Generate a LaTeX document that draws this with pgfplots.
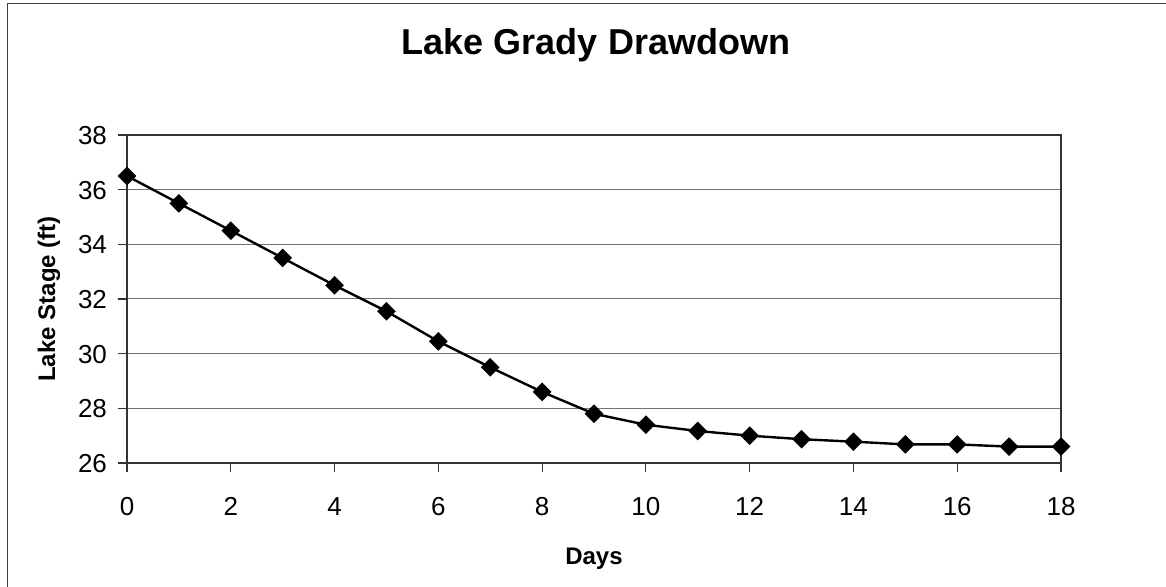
\documentclass[border=0pt]{standalone}
\usepackage{pgfplots}
\pgfplotsset{compat=1.18}
\usepackage{fontspec}
\setmainfont{Liberation Sans}
\begin{document}
\begin{tikzpicture}
\useasboundingbox (0pt,0pt) rectangle (583pt,293.5pt);
\draw[black!75, line width=0.5pt] (3.5pt,0pt) -- (3.5pt,291.5pt) -- (583pt,291.5pt);
\node[font=\bfseries\fontsize{18}{21}\selectfont] at (298pt,271pt) {Lake Grady Drawdown};
\begin{axis}[
  at={(63.5pt,62pt)}, anchor=south west,
  scale only axis, width=467pt, height=164pt,
  xmin=0, xmax=18, ymin=26, ymax=38,
  xtick={0,2,...,18}, ytick={26,28,...,38},
  ymajorgrids, grid style={black!55, line width=0.5pt},
  axis line style={black!80, line width=0.6pt},
  tick style={black!80, line width=0.6pt},
  tick align=outside, major tick length=4.5pt,
  xtick pos=bottom, ytick pos=left,
  /pgf/number format/assume math mode=true,
  ticklabel style={font=\fontsize{13}{15}\selectfont, text height=9.4pt, text depth=0pt},
  xticklabel style={yshift=-9pt},
  yticklabel style={xshift=-2pt},
  xlabel={\textbf{Days}}, ylabel={\textbf{Lake Stage (ft)}},
  label style={font=\bfseries\fontsize{12}{14}\selectfont},
  xlabel style={yshift=-9pt},
  ylabel style={yshift=2pt},
  clip=false,
]
\addplot[black, line width=1.2pt, mark=square*, mark size=2.7pt, mark options={rotate=45, solid}] coordinates {
(0,36.5) (1,35.5) (2,34.5) (3,33.5) (4,32.5) (5,31.55) (6,30.45) (7,29.5) (8,28.6) (9,27.8)
(10,27.4) (11,27.17) (12,27.0) (13,26.87) (14,26.78) (15,26.68) (16,26.68) (17,26.6) (18,26.6)
};
\end{axis}
\end{tikzpicture}
\end{document}
